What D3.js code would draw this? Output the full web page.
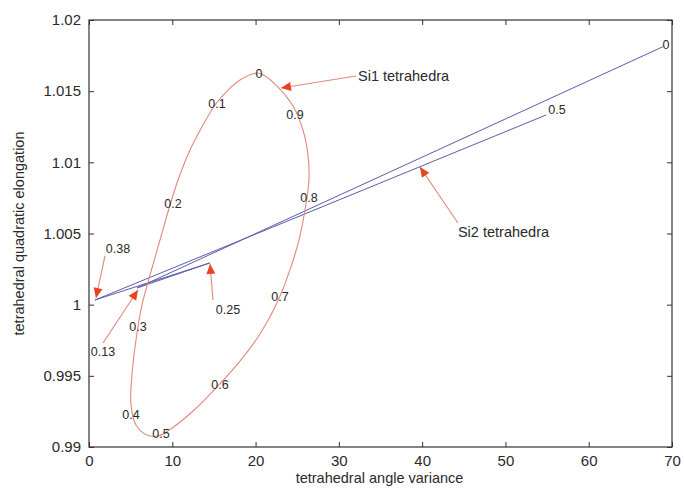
<!DOCTYPE html>
<html>
<head>
<meta charset="utf-8">
<script src="https://cdn.jsdelivr.net/npm/d3@7"></script>
<style>
  body { margin: 0; background: #fff; }
  svg text { font-family: "Liberation Sans", Arial, sans-serif; fill: #2a2a2a; }
</style>
</head>
<body>
<div id="chart"></div>
<script>
// Si1 loop (phase 0 -> 1)
const si1X = [20.17, 18.13, 16.69, 15.13, 13.69, 12.13, 10.69, 9.73, 8.52, 7.32, 6.36, 5.64, 5.16, 5.04, 5.64, 6.96,
              8.28, 9.97, 12.49, 14.89, 18.13, 20.53, 22.57, 24.13, 25.21, 25.93, 26.41, 26.29, 25.69, 24.49, 22.69, 21.13];
const si1Y = [1.01628, 1.01578, 1.01508, 1.01403, 1.01262, 1.01087, 1.00876, 1.00700, 1.00454, 1.00208, 0.99998, 0.99752,
              0.99506, 0.99295, 0.99155, 0.99084, 0.99077, 0.99133, 0.99253, 0.99393, 0.99604, 0.99794, 1.00012, 1.00244,
              1.00454, 1.00665, 1.00876, 1.01052, 1.01227, 1.01396, 1.01529, 1.01607];

// Si1 phase labels
const si1Labels = ["0", "0.1", "0.2", "0.3", "0.4", "0.5", "0.6", "0.7", "0.8", "0.9"];
const si1LabelX = [20.41, 15.37, 10.09, 5.88, 5.04, 8.64, 15.73, 22.93, 26.41, 24.73];
const si1LabelY = [1.01621, 1.01410, 1.00707, 0.99843, 0.99225, 0.99091, 0.99436, 1.00054, 1.00749, 1.01333];

// Si2 path, phase 0 -> 0.13 -> 0.25 -> 0.38 -> 0.5
const si2X = [68.9, 5.76, 14.5, 0.72, 54.9];
const si2Y = [1.01812, 1.00117, 1.00293, 1.00033, 1.01333];
const si2Labels = ["0", "0.5"];
const si2LabelX = [69.27, 56.19];
const si2LabelY = [1.01824, 1.01368];

// arrow annotations: text, text position, arrow start, arrow tip
const noteText = ["Si1 tetrahedra", "Si2 tetrahedra", "0.38", "0.13", "0.25"];
const noteX = [32.3, 44.3, 3.48, 1.68, 16.69];
const noteY = [1.01607, 1.00510, 1.00391, 0.99667, 0.99963];
const noteAnchor = ["start", "start", "middle", "middle", "middle"];
const arrowFromX = [32.06, 44.30, 1.92, 1.68, 14.89];
const arrowFromY = [1.01607, 1.00574, 1.00342, 0.99731, 1.00033];
const arrowToX = [23.05, 39.74, 0.84, 5.88, 14.53];
const arrowToY = [1.01522, 1.00967, 1.00047, 1.00103, 1.00286];

const xTicks = [0, 10, 20, 30, 40, 50, 60, 70];
const yTicks = [0.99, 0.995, 1, 1.005, 1.01, 1.015, 1.02];

const width = 684, height = 489;
const margin = { top: 20, right: 12, bottom: 42, left: 89 };

const svg = d3.select("#chart").append("svg")
    .attr("width", width)
    .attr("height", height);

const x = d3.scaleLinear().domain([0, 70]).range([margin.left, width - margin.right]);
const y = d3.scaleLinear().domain([0.99, 1.02]).range([height - margin.bottom, margin.top]);

const arrowRed = "#e8421f";
const lineRed = "#e0887a";
const blue = "#5a5cab";

svg.append("defs").append("marker")
    .attr("id", "head")
    .attr("markerUnits", "userSpaceOnUse")
    .attr("viewBox", "0 -5 10 10")
    .attr("refX", 10)
    .attr("refY", 0)
    .attr("markerWidth", 12)
    .attr("markerHeight", 10)
    .attr("orient", "auto")
    .append("path")
    .attr("d", "M0,-4.5L10,0L0,4.5Z")
    .attr("fill", arrowRed);

// axes, MATLAB style: ticks inward on all four sides
const tickLen = 5;
svg.append("g")
    .attr("transform", "translate(0," + y(0.99) + ")")
    .call(d3.axisBottom(x).tickValues(xTicks).tickSize(-tickLen).tickPadding(8).tickFormat(d3.format("d")))
    .call(g => g.select(".domain").remove())
    .call(g => g.selectAll("text").style("font-size", "15px"));
svg.append("g")
    .attr("transform", "translate(0," + y(1.02) + ")")
    .call(d3.axisTop(x).tickValues(xTicks).tickSize(-tickLen).tickFormat(""))
    .call(g => g.select(".domain").remove());
svg.append("g")
    .attr("transform", "translate(" + x(0) + ",0)")
    .call(d3.axisLeft(y).tickValues(yTicks).tickSize(-tickLen).tickPadding(8).tickFormat(d => String(+d.toFixed(3))))
    .call(g => g.select(".domain").remove())
    .call(g => g.selectAll("text").style("font-size", "15px"));
svg.append("g")
    .attr("transform", "translate(" + x(70) + ",0)")
    .call(d3.axisRight(y).tickValues(yTicks).tickSize(-tickLen).tickFormat(""))
    .call(g => g.select(".domain").remove());
svg.selectAll(".tick line").attr("stroke", "#333");

svg.append("rect")
    .attr("x", x(0)).attr("y", y(1.02))
    .attr("width", x(70) - x(0)).attr("height", y(0.99) - y(1.02))
    .attr("fill", "none").attr("stroke", "#333").attr("stroke-width", 1.2);

// axis titles
svg.append("text")
    .attr("x", (x(0) + x(70)) / 2 - 1)
    .attr("y", height - 6)
    .attr("text-anchor", "middle")
    .style("font-size", "14.5px")
    .text("tetrahedral angle variance");
svg.append("text")
    .attr("transform", "translate(24," + ((y(0.99) + y(1.02)) / 2) + ") rotate(-90)")
    .attr("text-anchor", "middle")
    .style("font-size", "14.5px")
    .text("tetrahedral quadratic elongation");

// Si2 lines
svg.append("path")
    .datum(d3.range(si2X.length))
    .attr("fill", "none")
    .attr("stroke", blue)
    .attr("stroke-width", 1)
    .attr("d", d3.line().x(i => x(si2X[i])).y(i => y(si2Y[i])));

// Si1 loop
svg.append("path")
    .datum(d3.range(si1X.length))
    .attr("fill", "none")
    .attr("stroke", lineRed)
    .attr("stroke-width", 1.1)
    .attr("d", d3.line().curve(d3.curveCatmullRomClosed).x(i => x(si1X[i])).y(i => y(si1Y[i])));

// phase labels
svg.append("g").selectAll("text")
    .data(d3.range(si1Labels.length))
    .enter().append("text")
    .attr("x", i => x(si1LabelX[i]))
    .attr("y", i => y(si1LabelY[i]))
    .attr("dy", "0.35em")
    .attr("text-anchor", "middle")
    .style("font-size", "12.5px")
    .text(i => si1Labels[i]);

svg.append("g").selectAll("text")
    .data(d3.range(si2Labels.length))
    .enter().append("text")
    .attr("x", i => x(si2LabelX[i]))
    .attr("y", i => y(si2LabelY[i]))
    .attr("dy", "0.35em")
    .attr("text-anchor", "middle")
    .style("font-size", "12.5px")
    .text(i => si2Labels[i]);

// arrows and their notes
svg.append("g").selectAll("line")
    .data(d3.range(noteText.length))
    .enter().append("line")
    .attr("x1", i => x(arrowFromX[i]))
    .attr("y1", i => y(arrowFromY[i]))
    .attr("x2", i => x(arrowToX[i]))
    .attr("y2", i => y(arrowToY[i]))
    .attr("stroke", lineRed)
    .attr("stroke-width", 1.1)
    .attr("marker-end", "url(#head)");

svg.append("g").selectAll("text")
    .data(d3.range(noteText.length))
    .enter().append("text")
    .attr("x", i => x(noteX[i]))
    .attr("y", i => y(noteY[i]))
    .attr("dy", "0.35em")
    .attr("text-anchor", i => noteAnchor[i])
    .style("font-size", i => i < 2 ? "14.5px" : "12.5px")
    .text(i => noteText[i]);
</script>
</body>
</html>
